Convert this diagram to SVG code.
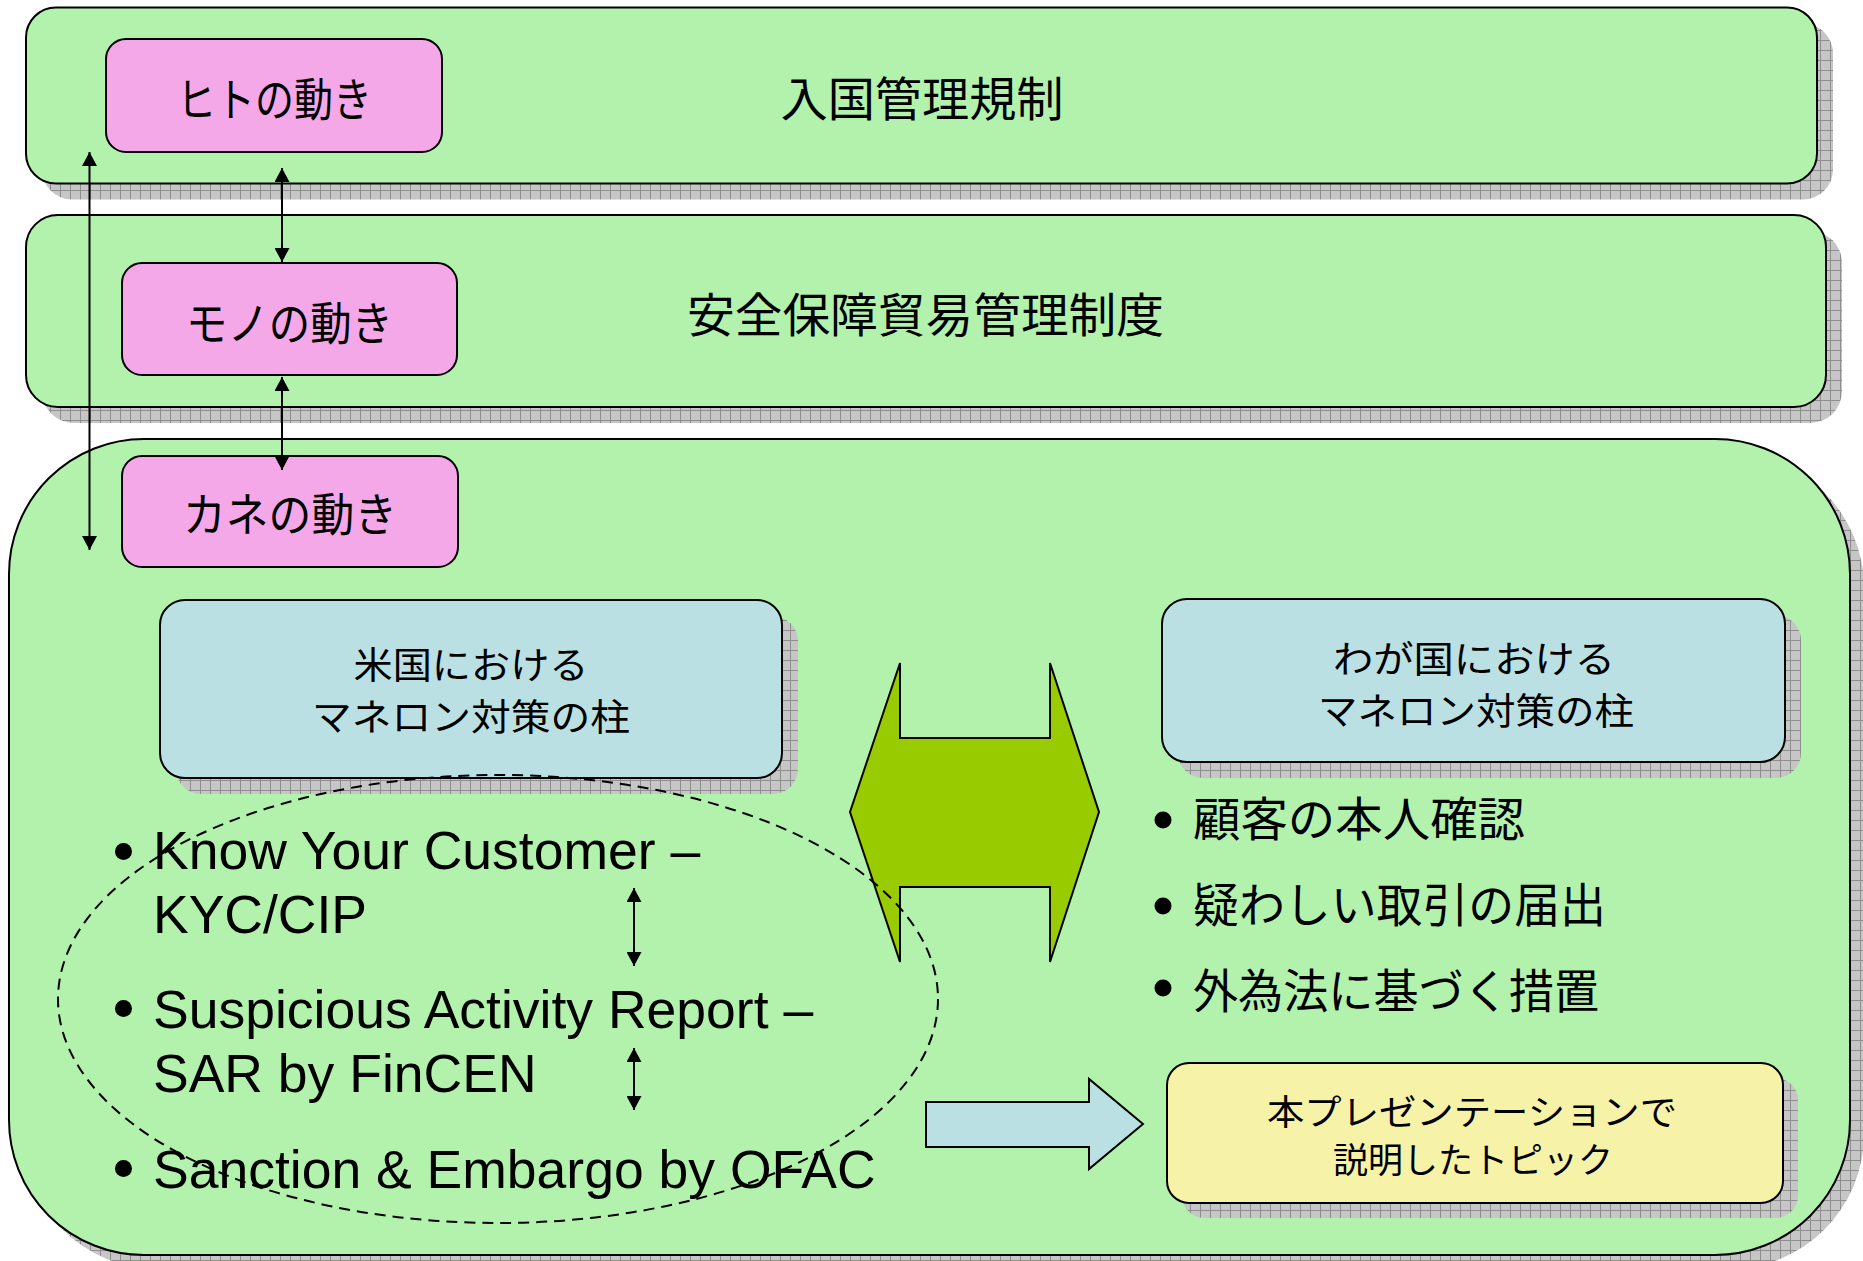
<svg xmlns="http://www.w3.org/2000/svg" width="1863" height="1261" viewBox="0 0 1863 1261">
<defs>
<pattern id="hatch" width="10" height="10" patternUnits="userSpaceOnUse">
<rect width="10" height="10" fill="#c6c6c6"/>
<path d="M0,0.5 H10 M0.5,0 V10" stroke="#8e8e8e" stroke-width="1"/>
</pattern>
<marker id="ah" viewBox="0 0 14 15" refX="14" refY="7.5" markerWidth="14" markerHeight="15" markerUnits="userSpaceOnUse" orient="auto-start-reverse">
<path d="M0,0 L14,7.5 L0,15 z" fill="#000"/>
</marker>
<style>
.band{fill:#b3f2ad;stroke:#000;stroke-width:2}
.shadow{fill:url(#hatch)}
.pink{fill:#f4a8e8;stroke:#000;stroke-width:2}
.blue{fill:#bbe0e3;stroke:#000;stroke-width:2}
.yellow{fill:#f6f3a8;stroke:#000;stroke-width:2}
.jp{font-family:"Noto Sans CJK JP","Noto Sans CJK SC",sans-serif;fill:#000}
.en{font-family:"Liberation Sans",Arial,sans-serif;font-size:53.5px;fill:#000}
.conn{stroke:#000;stroke-width:2;fill:none;marker-start:url(#ah);marker-end:url(#ah)}
</style>
</defs>

<g id="band-immigration">
<rect class="shadow" x="42" y="23.5" width="1791" height="176" rx="30"/>
<rect class="band" x="26" y="7.5" width="1791" height="176" rx="30"/>
<text class="jp" x="922" y="115.5" font-size="47" text-anchor="middle" textLength="283" lengthAdjust="spacingAndGlyphs">入国管理規制</text>
</g>

<g id="band-trade">
<rect class="shadow" x="42" y="231" width="1800" height="192" rx="32"/>
<rect class="band" x="26" y="215" width="1800" height="192" rx="32"/>
<text class="jp" x="925.5" y="332" font-size="47" text-anchor="middle" textLength="477" lengthAdjust="spacingAndGlyphs">安全保障貿易管理制度</text>
</g>

<g id="panel-money">
<rect class="shadow" x="23" y="453" width="1841" height="816" rx="135"/>
<rect class="band" x="9" y="439" width="1841" height="816" rx="135"/>
</g>

<g id="node-hito">
<rect class="pink" x="106" y="39" width="336" height="113" rx="20"/>
<text class="jp" x="274.5" y="115.5" font-size="46" text-anchor="middle" textLength="195" lengthAdjust="spacingAndGlyphs">ヒトの動き</text>
</g>

<g id="node-mono">
<rect class="pink" x="122" y="263" width="335" height="112" rx="20"/>
<text class="jp" x="289.5" y="339.5" font-size="46" text-anchor="middle" textLength="207" lengthAdjust="spacingAndGlyphs">モノの動き</text>
</g>

<g id="node-kane">
<rect class="pink" x="122" y="456" width="336" height="111" rx="20"/>
<text class="jp" x="290" y="531" font-size="46" text-anchor="middle" textLength="214" lengthAdjust="spacingAndGlyphs">カネの動き</text>
</g>

<g id="node-us-pillars">
<rect class="shadow" x="176" y="616" width="622" height="178" rx="25"/>
<rect class="blue" x="160" y="600" width="622" height="178" rx="25"/>
<text class="jp" x="471" y="679" font-size="37" text-anchor="middle" textLength="235" lengthAdjust="spacingAndGlyphs">米国における</text>
<text class="jp" x="471" y="731" font-size="37" text-anchor="middle" textLength="318" lengthAdjust="spacingAndGlyphs">マネロン対策の柱</text>
</g>

<g id="node-jp-pillars">
<rect class="shadow" x="1178" y="615" width="623" height="163" rx="25"/>
<rect class="blue" x="1162" y="599" width="623" height="163" rx="25"/>
<text class="jp" x="1474" y="673" font-size="37" text-anchor="middle" textLength="282" lengthAdjust="spacingAndGlyphs">わが国における</text>
<text class="jp" x="1476" y="725" font-size="37" text-anchor="middle" textLength="316" lengthAdjust="spacingAndGlyphs">マネロン対策の柱</text>
</g>

<g id="us-list">
<circle cx="123.5" cy="851.5" r="8.5"/>
<text class="en" x="153" y="869">Know Your Customer –</text>
<text class="en" x="153" y="933">KYC/CIP</text>
<circle cx="123.5" cy="1008.5" r="8.5"/>
<text class="en" x="153" y="1028">Suspicious Activity Report –</text>
<text class="en" x="153" y="1092">SAR by FinCEN</text>
<circle cx="123.5" cy="1168.5" r="8.5"/>
<text class="en" x="153" y="1188">Sanction &amp; Embargo by OFAC</text>
</g>

<g id="jp-list">
<circle cx="1163" cy="820" r="8.5"/>
<text class="jp" x="1193" y="836" font-size="47" textLength="332" lengthAdjust="spacingAndGlyphs">顧客の本人確認</text>
<circle cx="1163" cy="906" r="8.5"/>
<text class="jp" x="1193" y="922" font-size="47" textLength="413" lengthAdjust="spacingAndGlyphs">疑わしい取引の届出</text>
<circle cx="1163" cy="988" r="8.5"/>
<text class="jp" x="1193" y="1008" font-size="47" textLength="406" lengthAdjust="spacingAndGlyphs">外為法に基づく措置</text>
</g>

<g id="compare-arrow">
<polygon points="850,812 900,663 900,738 1050,738 1050,663 1099,812 1050,962 1050,887 900,887 900,962" fill="#99cc00" stroke="#000" stroke-width="2" stroke-linejoin="miter"/>
</g>

<g id="topic-arrow">
<polygon points="926,1102 1089,1102 1089,1079 1143,1124 1089,1169 1089,1147 926,1147" fill="#bbe0e3" stroke="#000" stroke-width="2"/>
</g>

<g id="node-topics">
<rect class="shadow" x="1182" y="1078" width="616" height="140" rx="22"/>
<rect class="yellow" x="1167" y="1063" width="616" height="140" rx="22"/>
<text class="jp" x="1472" y="1125" font-size="35" text-anchor="middle" textLength="410" lengthAdjust="spacingAndGlyphs">本プレゼンテーションで</text>
<text class="jp" x="1473" y="1173" font-size="35" text-anchor="middle" textLength="280" lengthAdjust="spacingAndGlyphs">説明したトピック</text>
</g>

<g id="us-focus-ellipse">
<ellipse cx="498" cy="999" rx="440" ry="224" fill="none" stroke="#000" stroke-width="2" stroke-dasharray="11 7"/>
</g>

<g id="connectors">
<line class="conn" x1="89.5" y1="152" x2="89.5" y2="550"/>
<line class="conn" x1="282" y1="168" x2="282" y2="262"/>
<line class="conn" x1="282" y1="377" x2="282" y2="470"/>
<line class="conn" x1="634" y1="888" x2="634" y2="966"/>
<line class="conn" x1="634" y1="1048" x2="634" y2="1110"/>
</g>
</svg>
